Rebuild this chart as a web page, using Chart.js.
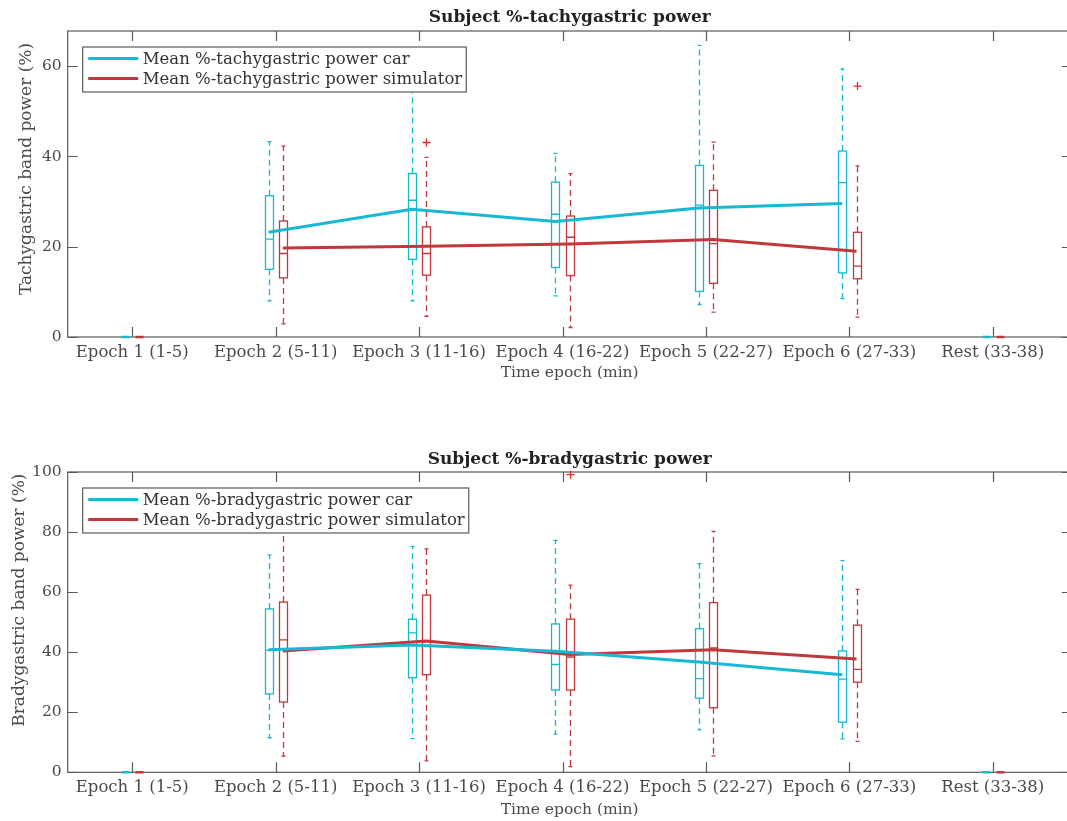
<!DOCTYPE html>
<html>
<head>
<meta charset="utf-8">
<title>Subject gastric power</title>
<script src="https://cdn.jsdelivr.net/npm/chart.js@4.4.1/dist/chart.umd.min.js"></script>
<style>
  html, body { margin: 0; padding: 0; background: #fff; overflow: hidden; }
  .panel { position: absolute; left: 0; }
  #tachyWrap { top: 0; }
  #bradyWrap { top: 410px; }
</style>
</head>
<body>
<div class="panel" id="tachyWrap"><canvas id="tachyPlot" width="1080" height="400"></canvas></div>
<div class="panel" id="bradyWrap"><canvas id="bradyPlot" width="1080" height="411"></canvas></div>
<script>
const epochLabels = ['Epoch 1 (1-5)', 'Epoch 2 (5-11)', 'Epoch 3 (11-16)', 'Epoch 4 (16-22)',
                     'Epoch 5 (22-27)', 'Epoch 6 (27-33)', 'Rest (33-38)'];

// box stats per epoch: [lower whisker, q1, median, q3, upper whisker]
const tachyCarBox = [
  [0, 0, 0, 0, 0],
  [8.0, 15.0, 21.7, 31.3, 43.3],
  [8.0, 17.2, 30.3, 36.2, 57.0],
  [9.1, 15.4, 27.2, 34.3, 40.7],
  [7.2, 10.1, 29.2, 38.0, 64.6],
  [8.5, 14.2, 34.2, 41.2, 59.4],
  [0, 0, 0, 0, 0]
];
const tachySimBox = [
  [0, 0, 0, 0, 0],
  [2.9, 13.1, 18.5, 25.7, 42.3],
  [4.6, 13.7, 18.5, 24.4, 39.8],
  [2.1, 13.6, 22.1, 26.8, 36.2],
  [5.5, 11.9, 20.7, 32.5, 43.2],
  [4.4, 12.9, 15.7, 23.2, 37.9],
  [0, 0, 0, 0, 0]
];
const tachyCarOutliers = [[], [], [], [], [], [], []];
const tachySimOutliers = [[], [], [43.1], [], [], [55.6], []];
const tachyCarMean = [null, 23.2, 28.3, 25.6, 28.6, 29.6, null];
const tachySimMean = [null, 19.7, 20.1, 20.6, 21.6, 19.0, null];

const bradyCarBox = [
  [0, 0, 0, 0, 0],
  [11.5, 26.1, 40.7, 54.4, 72.4],
  [11.2, 31.5, 46.4, 51.0, 75.2],
  [12.7, 27.4, 35.9, 49.4, 77.2],
  [14.1, 24.7, 31.2, 47.8, 69.5],
  [11.1, 16.7, 31.0, 40.4, 70.5],
  [0, 0, 0, 0, 0]
];
const bradySimBox = [
  [0, 0, 0, 0, 0],
  [5.4, 23.4, 44.1, 56.7, 84.0],
  [3.8, 32.5, 43.5, 59.0, 74.4],
  [1.9, 27.4, 38.4, 51.0, 62.3],
  [5.5, 21.5, 41.4, 56.5, 80.2],
  [10.3, 30.0, 34.3, 49.0, 60.9],
  [0, 0, 0, 0, 0]
];
const bradyCarOutliers = [[], [], [], [], [], [], []];
const bradySimOutliers = [[], [], [], [99.1], [], [], []];
const bradyCarMean = [null, 40.8, 42.4, 40.3, 36.7, 32.5, null];
const bradySimMean = [null, 40.4, 43.7, 39.2, 40.8, 37.7, null];

const CYAN = '#17b8d3';
const RED = '#c0383c';
const OUTLIER_RED = '#e8262b';
const AXIS = '#5a5a5a';
const TEXT = '#4a4a4a';
const FONT = 'DejaVu Serif';
const SHIFT = 0.05;   // side-by-side offset of the two groups, in epoch units

function meanPoints(values, shift) {
  return values.map((v, i) => ({ x: i + 1 + shift, y: v }));
}

// draws the box-and-whisker glyphs through the chart scales
function boxPlugin(groups) {
  return {
    id: 'boxes',
    beforeDatasetsDraw(chart) {
      const ctx = chart.ctx, xs = chart.scales.x, ys = chart.scales.y;
      const half = 4, cap = 2;
      ctx.save();
      groups.forEach(g => {
        g.stats.forEach((s, i) => {
          const cx = Math.round(xs.getPixelForValue(i + 1 + g.shift)) + 0.5;
          const [lo, q1, med, q3, hi] = s.map(v => ys.getPixelForValue(v));
          ctx.strokeStyle = g.color;
          ctx.lineWidth = 1.3;
          ctx.setLineDash([]);
          if (q1 - q3 < 1) {
            // collapsed box: draw as a flat bar on the axis
            ctx.lineWidth = 2.5;
            ctx.beginPath();
            ctx.moveTo(cx - half, q1); ctx.lineTo(cx + half, q1);
            ctx.stroke();
            return;
          }
          ctx.strokeRect(cx - half, q3, half * 2, q1 - q3);
          ctx.beginPath();
          ctx.moveTo(cx - half, med); ctx.lineTo(cx + half, med);
          ctx.moveTo(cx - cap, hi); ctx.lineTo(cx + cap, hi);
          ctx.moveTo(cx - cap, lo); ctx.lineTo(cx + cap, lo);
          ctx.stroke();
          ctx.setLineDash([6, 4]);
          ctx.beginPath();
          ctx.moveTo(cx, q3); ctx.lineTo(cx, hi);
          ctx.moveTo(cx, q1); ctx.lineTo(cx, lo);
          ctx.stroke();
          ctx.setLineDash([]);
          ctx.strokeStyle = g.outlierColor;
          g.outliers[i].forEach(v => {
            const py = ys.getPixelForValue(v);
            ctx.beginPath();
            ctx.moveTo(cx - 4, py); ctx.lineTo(cx + 4, py);
            ctx.moveTo(cx, py - 4); ctx.lineTo(cx, py + 4);
            ctx.stroke();
          });
        });
      });
      ctx.restore();
    }
  };
}

// axes box with inward ticks on all four sides
const framePlugin = {
  id: 'frame',
  beforeDatasetsDraw(chart) {
    const ctx = chart.ctx, a = chart.chartArea, xs = chart.scales.x, ys = chart.scales.y;
    const len = 10;
    ctx.save();
    ctx.strokeStyle = AXIS;
    ctx.lineWidth = 1.2;
    ctx.strokeRect(a.left, a.top, a.right - a.left, a.bottom - a.top);
    ctx.beginPath();
    xs.ticks.forEach(t => {
      const px = Math.round(xs.getPixelForValue(t.value)) + 0.5;
      ctx.moveTo(px, a.bottom); ctx.lineTo(px, a.bottom - len);
      ctx.moveTo(px, a.top); ctx.lineTo(px, a.top + len);
    });
    ys.ticks.forEach(t => {
      const py = Math.round(ys.getPixelForValue(t.value)) + 0.5;
      ctx.moveTo(a.left, py); ctx.lineTo(a.left + len, py);
      ctx.moveTo(a.right, py); ctx.lineTo(a.right - len, py);
    });
    ctx.stroke();
    ctx.restore();
  }
};

// rotated y-axis label, placed a little above the axis middle
const yTitlePlugin = {
  id: 'yTitle',
  afterDraw(chart, args, opts) {
    const ctx = chart.ctx, a = chart.chartArea;
    ctx.save();
    ctx.translate(opts.x, (a.top + a.bottom) / 2 + opts.shift);
    ctx.rotate(-Math.PI / 2);
    ctx.font = '17px "' + FONT + '"';
    ctx.fillStyle = TEXT;
    ctx.textAlign = 'center';
    ctx.textBaseline = 'middle';
    ctx.fillText(opts.text, 0, 0);
    ctx.restore();
  }
};

// boxed legend in the upper-left corner of the axes
const legendPlugin = {
  id: 'legendBox',
  afterDraw(chart) {
    const ctx = chart.ctx, a = chart.chartArea;
    const left = a.left + 15, top = a.top + 16;
    const sets = chart.data.datasets;
    ctx.save();
    ctx.font = '16.5px "' + FONT + '"';
    const textW = Math.max(...sets.map(d => ctx.measureText(d.label).width));
    const w = 60 + textW + 4, h = 45;
    ctx.fillStyle = '#fff';
    ctx.fillRect(left, top, w, h);
    ctx.strokeStyle = AXIS;
    ctx.lineWidth = 1.2;
    ctx.strokeRect(left, top, w, h);
    sets.forEach((d, i) => {
      const y = top + 11.5 + i * 20;
      ctx.strokeStyle = d.borderColor;
      ctx.lineWidth = 3;
      ctx.beginPath();
      ctx.moveTo(left + 5.5, y); ctx.lineTo(left + 55.5, y);
      ctx.stroke();
      ctx.fillStyle = '#333';
      ctx.textBaseline = 'middle';
      ctx.fillText(d.label, left + 60, y + 1);
    });
    ctx.restore();
  }
};

function makeChart(canvasId, opts) {
  const ctx = document.getElementById(canvasId).getContext('2d');
  return new Chart(ctx, {
    type: 'line',
    data: {
      datasets: [{
        label: opts.carLabel,
        data: meanPoints(opts.carMean, -SHIFT),
        borderColor: CYAN,
        borderWidth: 3,
        pointRadius: 0,
        tension: 0
      }, {
        label: opts.simLabel,
        data: meanPoints(opts.simMean, SHIFT),
        borderColor: RED,
        borderWidth: 3,
        pointRadius: 0,
        tension: 0
      }]
    },
    options: {
      responsive: false,
      animation: false,
      devicePixelRatio: 1,
      layout: { autoPadding: false, padding: { left: 0, right: 8.3, top: 0, bottom: 0 } },
      plugins: {
        legend: { display: false },
        tooltip: { enabled: false },
        title: {
          display: true,
          fullSize: false,
          text: opts.title,
          color: '#222',
          font: { family: FONT, size: 17, weight: 'bold', lineHeight: 1.2 },
          padding: opts.titlePadding
        },
        yTitle: { text: opts.yTitle, x: opts.yTitleX, shift: opts.yTitleShift }
      },
      scales: {
        x: {
          type: 'linear',
          min: 0.55,
          max: 7.55,
          afterBuildTicks: s => { s.ticks = epochLabels.map((_, i) => ({ value: i + 1 })); },
          afterFit: s => { s.height = opts.xAxisHeight; },
          grid: { display: false, drawTicks: false },
          border: { display: false },
          ticks: {
            autoSkip: false,
            maxRotation: 0,
            padding: 6,
            color: TEXT,
            font: { family: FONT, size: 16.5 },
            callback: v => epochLabels[v - 1] || ''
          },
          title: {
            display: true,
            text: 'Time epoch (min)',
            color: TEXT,
            font: { family: FONT, size: 15.5, lineHeight: 1.2 },
            padding: { top: 0, bottom: opts.xTitleBottom }
          }
        },
        y: {
          min: 0,
          max: opts.yMax,
          afterBuildTicks: s => { s.ticks = opts.yTicks.map(v => ({ value: v })); },
          afterFit: s => { s.width = 67.7; },
          grid: { display: false, drawTicks: false },
          border: { display: false },
          ticks: { padding: 6, color: TEXT, font: { family: FONT, size: 15.5 } },
          title: { display: false }
        }
      }
    },
    plugins: [
      framePlugin,
      boxPlugin([
        { shift: -SHIFT, color: CYAN, outlierColor: CYAN, stats: opts.carBox, outliers: opts.carOutliers },
        { shift: SHIFT, color: RED, outlierColor: OUTLIER_RED, stats: opts.simBox, outliers: opts.simOutliers }
      ]),
      yTitlePlugin,
      legendPlugin
    ]
  });
}

makeChart('tachyPlot', {
  title: 'Subject %-tachygastric power',
  titlePadding: { top: 7, bottom: 3.6 },
  yTitle: 'Tachygastric band power (%)',
  yTitleX: 27,
  yTitleShift: -15,
  yMax: 67.8,
  yTicks: [0, 20, 40, 60],
  xAxisHeight: 63,
  xTitleBottom: 17.7,
  carLabel: 'Mean %-tachygastric power car',
  simLabel: 'Mean %-tachygastric power simulator',
  carBox: tachyCarBox, simBox: tachySimBox,
  carOutliers: tachyCarOutliers, simOutliers: tachySimOutliers,
  carMean: tachyCarMean, simMean: tachySimMean
});

makeChart('bradyPlot', {
  title: 'Subject %-bradygastric power',
  titlePadding: { top: 39, bottom: 2.6 },
  yTitle: 'Bradygastric band power (%)',
  yTitleX: 20,
  yTitleShift: -22,
  yMax: 100,
  yTicks: [0, 20, 40, 60, 80, 100],
  xAxisHeight: 48.7,
  xTitleBottom: 1.7,
  carLabel: 'Mean %-bradygastric power car',
  simLabel: 'Mean %-bradygastric power simulator',
  carBox: bradyCarBox, simBox: bradySimBox,
  carOutliers: bradyCarOutliers, simOutliers: bradySimOutliers,
  carMean: bradyCarMean, simMean: bradySimMean
});
</script>
</body>
</html>
